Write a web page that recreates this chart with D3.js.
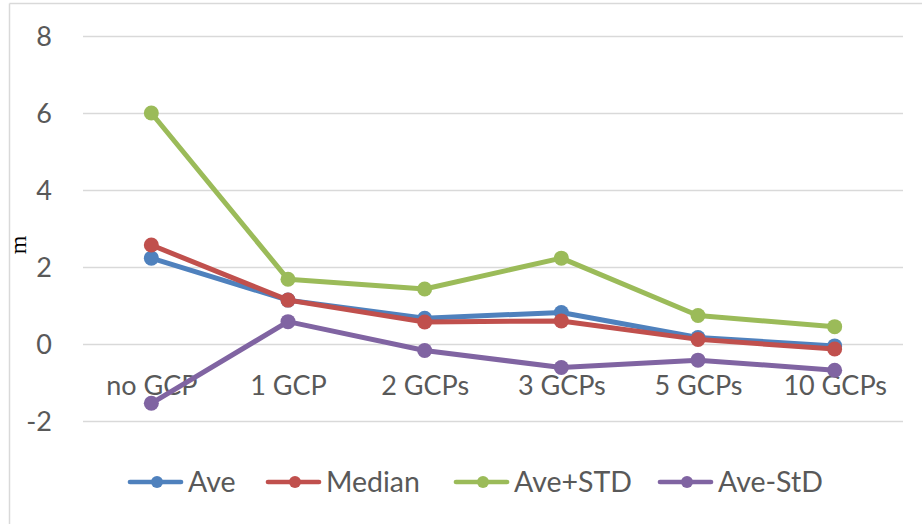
<!DOCTYPE html>
<html>
<head>
<meta charset="utf-8">
<script src="https://cdn.jsdelivr.net/npm/d3@7"></script>
<style>
  html, body { margin: 0; padding: 0; background: #fff; }
  svg { display: block; }
</style>
</head>
<body>
<svg id="chart" width="922" height="524"></svg>
<script>
const categories = ["no GCP", "1 GCP", "2 GCPs", "3 GCPs", "5 GCPs", "10 GCPs"];
const seriesNames = ["Ave", "Median", "Ave+STD", "Ave-StD"];
const ave    = [2.23, 1.14, 0.67, 0.82, 0.17, -0.05];
const median = [2.57, 1.14, 0.57, 0.60, 0.12, -0.13];
const avePlus  = [6.00, 1.68, 1.43, 2.23, 0.74, 0.45];
const aveMinus = [-1.54, 0.58, -0.17, -0.61, -0.42, -0.68];
const yTicks = [-2, 0, 2, 4, 6, 8];
const colors = ["#4F81BD", "#C0504D", "#9BBB59", "#8064A2"];
const yLabel = "m";

const seriesData = [ave, median, avePlus, aveMinus];

const svg = d3.select("#chart");
const plotLeft = 83, plotRight = 903;
const x = d3.scalePoint().domain(categories).range([plotLeft, plotRight]).padding(0.5);
const y = d3.scaleLinear().domain([-2, 8]).range([421, 36]);
const textColor = "#595959";
const font = "Lato, 'Open Sans', sans-serif";

// outer border (top & left visible)
svg.append("line").attr("x1", 9.5).attr("x2", 922).attr("y1", 3.5).attr("y2", 3.5)
  .attr("stroke", "#d9d9d9").attr("stroke-width", 1.5);
svg.append("line").attr("x1", 9.5).attr("x2", 9.5).attr("y1", 3.5).attr("y2", 524)
  .attr("stroke", "#d9d9d9").attr("stroke-width", 1.5);

// gridlines
svg.append("g").selectAll("line").data(yTicks).join("line")
  .attr("x1", plotLeft).attr("x2", plotRight)
  .attr("y1", d => Math.round(y(d)) + 0.5).attr("y2", d => Math.round(y(d)) + 0.5)
  .attr("stroke", "#d9d9d9").attr("stroke-width", 1.5);

// y axis tick labels
const yAxis = d3.axisLeft(y).tickValues(yTicks).tickSize(0).tickPadding(0).tickFormat(d => String(d));
const yg = svg.append("g").attr("transform", "translate(52,0)").call(yAxis);
yg.select(".domain").remove();
yg.selectAll("text").attr("font-family", font).attr("font-size", 27).attr("fill", textColor)
  .attr("dy", "0.35em");

// y axis title
svg.append("text").attr("transform", "translate(26,245) rotate(-90)")
  .attr("text-anchor", "middle").attr("font-family", "'Liberation Serif', 'DejaVu Serif', serif")
  .attr("font-size", 24).attr("fill", "#000").text(yLabel);

// x category labels
const xAxis = d3.axisBottom(x).tickSize(0).tickPadding(0);
const xg = svg.append("g").attr("transform", `translate(0,${y(0)})`).call(xAxis);
xg.select(".domain").remove();
xg.selectAll("text").attr("font-family", font).attr("font-size", 27).attr("fill", textColor)
  .attr("y", 0).attr("dy", 51);

// lines
const line = d3.line().x((d, i) => x(categories[i])).y(d => y(d));
seriesData.forEach((vals, si) => {
  const g = svg.append("g");
  g.append("path").datum(vals).attr("d", line).attr("fill", "none")
    .attr("stroke", colors[si]).attr("stroke-width", 5).attr("stroke-linejoin", "round")
    .attr("stroke-linecap", "round");
  g.selectAll("circle").data(vals).join("circle")
    .attr("cx", (d, i) => x(categories[i])).attr("cy", d => y(d)).attr("r", 7.5)
    .attr("fill", colors[si]);
});

// legend
const legendY = 482;
const legendStarts = [128, 266, 454, 658];
seriesNames.forEach((name, i) => {
  const g = svg.append("g").attr("transform", `translate(${legendStarts[i]},${legendY})`);
  g.append("line").attr("x1", 2).attr("x2", 53).attr("y1", 0).attr("y2", 0)
    .attr("stroke", colors[i]).attr("stroke-width", 4.7).attr("stroke-linecap", "round");
  g.append("circle").attr("cx", 29).attr("cy", 0).attr("r", 6).attr("fill", colors[i]);
  g.append("text").attr("x", 60)
    .attr("font-family", font).attr("font-size", 28.5).attr("fill", textColor)
    .attr("dy", "0.35em").text(name);
});
</script>
</body>
</html>
